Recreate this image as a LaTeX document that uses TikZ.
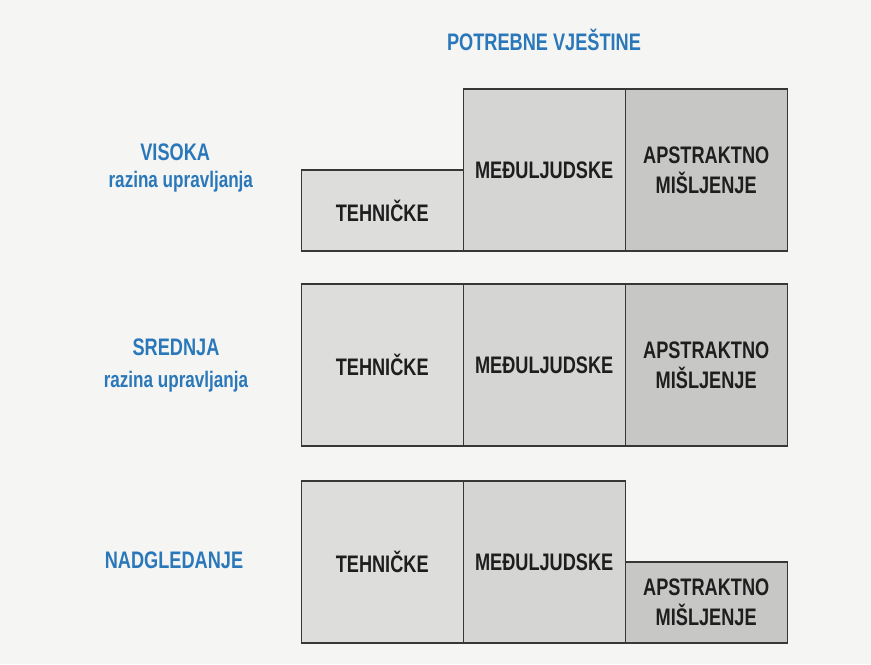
\documentclass[tikz,border=0pt]{standalone}
\usepackage{fontspec}
\setmainfont{Liberation Sans}[FakeStretch=0.76]
\definecolor{plava}{RGB}{42,120,186}
\definecolor{pozadina}{RGB}{245,245,244}
\definecolor{rubovi}{RGB}{55,55,55}
\definecolor{tekst}{RGB}{30,30,30}
\definecolor{sivaA}{RGB}{221,221,220}
\definecolor{sivaB}{RGB}{213,213,212}
\definecolor{sivaC}{RGB}{199,199,198}

\begin{document}
\begin{tikzpicture}[
    kutija/.style={draw=rubovi, line width=0.8pt, minimum width=4.05cm, inner sep=0pt, outer sep=0pt,
        align=center, text=tekst, font=\fontsize{17}{21.3}\selectfont\bfseries},
    puna/.style={kutija, minimum height=4.05cm},
    pola/.style={kutija, minimum height=2.025cm},
    razina/.style={text=plava, font=\fontsize{17}{20}\selectfont\bfseries},
    opis/.style={text=plava, font=\fontsize{16}{19}\selectfont\bfseries}
]
    % Podloga
    \fill[pozadina] (0,0) rectangle (21.775,-16.6);
    \useasboundingbox (0,0) rectangle (21.775,-16.6);

    % Naslov
    \node[razina] (naslov) at (13.6,-1.01) {POTREBNE VJEŠTINE};

    % Visoka razina upravljanja
    \node[pola, fill=sivaA, anchor=south west] (teh1) at (7.53,-6.275) {TEHNIČKE};
    \node[puna, fill=sivaB, anchor=south west] (med1) at (teh1.south east) {MEĐULJUDSKE};
    \node[puna, fill=sivaC, anchor=south west] (aps1) at (med1.south east) {APSTRAKTNO\\MIŠLJENJE};
    \node[razina] (visoka) at (4.38,-3.8) {VISOKA};
    \node[opis] (razina1) at (4.52,-4.55) {razina upravljanja};

    % Srednja razina upravljanja
    \node[puna, fill=sivaA, anchor=south west] (teh2) at (7.53,-11.15) {TEHNIČKE};
    \node[puna, fill=sivaB, anchor=south west] (med2) at (teh2.south east) {MEĐULJUDSKE};
    \node[puna, fill=sivaC, anchor=south west] (aps2) at (med2.south east) {APSTRAKTNO\\MIŠLJENJE};
    \node[razina] (srednja) at (4.4,-8.68) {SREDNJA};
    \node[opis] (razina2) at (4.4,-9.55) {razina upravljanja};

    % Nadgledanje
    \node[puna, fill=sivaA, anchor=south west] (teh3) at (7.53,-16.075) {TEHNIČKE};
    \node[puna, fill=sivaB, anchor=south west] (med3) at (teh3.south east) {MEĐULJUDSKE};
    \node[pola, fill=sivaC, anchor=south west] (aps3) at (med3.south east) {APSTRAKTNO\\MIŠLJENJE};
    \node[razina] (nadgledanje) at (4.35,-14) {NADGLEDANJE};
\end{tikzpicture}
\end{document}
